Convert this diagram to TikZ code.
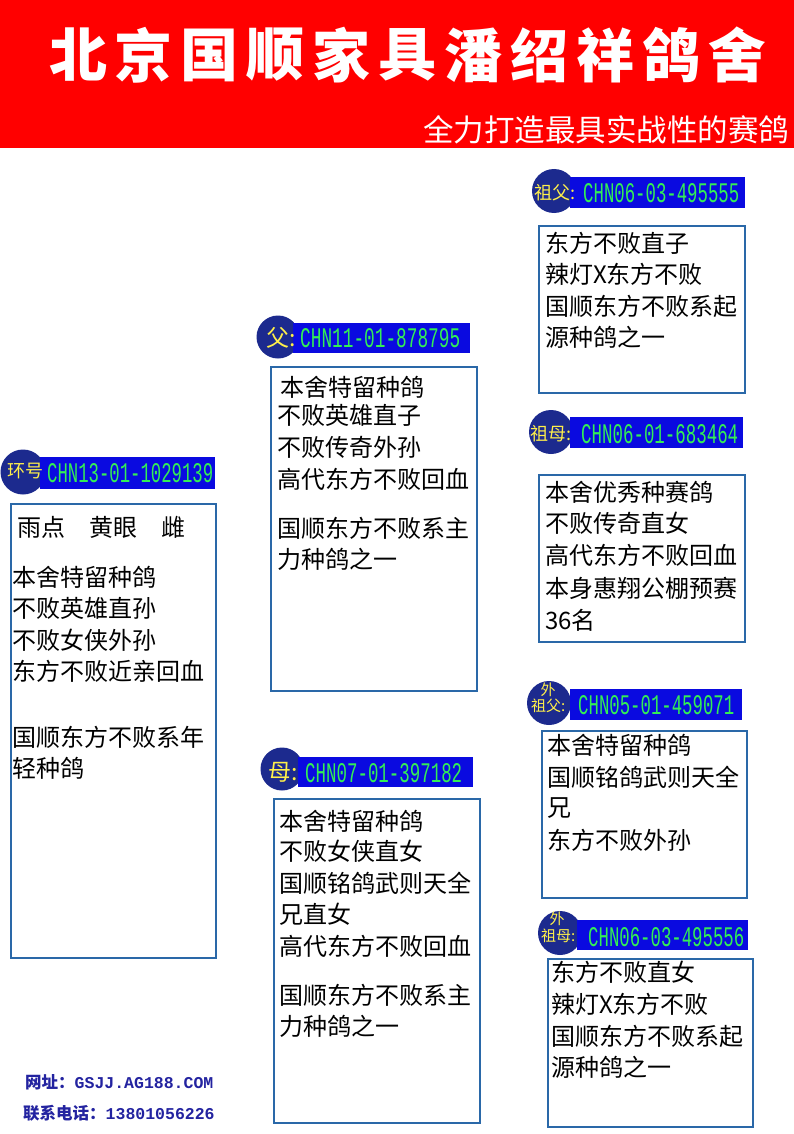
\documentclass[tikz,border=0pt]{standalone}
\usepackage{fontspec}
\setmainfont{Noto Sans CJK SC}
\newfontfamily\monofont{Liberation Mono}
\definecolor{hdrred}{HTML}{FF0000}
\definecolor{tagblue}{HTML}{0A0AE0}
\definecolor{tagnavy}{HTML}{1C2A8E}
\definecolor{tagyellow}{HTML}{FFF04A}
\definecolor{taggreen}{HTML}{33EE55}
\definecolor{boxblue}{HTML}{2A68A8}
\definecolor{footblue}{HTML}{2323A0}
\begin{document}
\begin{tikzpicture}[x=1pt,y=-1pt,
  infobox/.style={draw=boxblue,line width=2pt,fill=white,anchor=north west,inner sep=0pt},
  body/.style={anchor=west,inner sep=0pt,font=\fontsize{24}{28}\selectfont,text=black},
  tagcircle/.style={circle,fill=tagnavy,inner sep=0pt},
  tagrect/.style={fill=tagblue,inner sep=0pt,anchor=north west},
  chn/.style={anchor=west,inner sep=0pt,text=taggreen},
  lab/.style={inner sep=0pt,text=tagyellow},
  titlechar/.style={inner sep=0pt,text=white,font=\fontsize{58}{58}\selectfont\bfseries},
  foot/.style={anchor=west,inner sep=0pt,text=footblue,font=\fontsize{16.5}{18}\selectfont\bfseries}]
\fill[white] (0,0) rectangle (794,1134);
\useasboundingbox (0,0) rectangle (794,1134);

% header
\node[fill=hdrred,anchor=north west,minimum width=794pt,minimum height=148pt,inner sep=0pt] (header) at (0,0) {};
\foreach \c [count=\i from 0] in {北,京,国,顺,家,具,潘,绍,祥,鸽,舍}
  \node[titlechar] (t\i) at ({78+65.9*\i},55) {\c};
\node[anchor=west,inner sep=0pt,text=white,font=\fontsize{30.5}{32}\selectfont] (subtitle) at (423,130) {全力打造最具实战性的赛鸽};

% boxes
\node[infobox,minimum width=205pt,minimum height=454pt] (b1) at (10,503) {};
\node[infobox,minimum width=206pt,minimum height=324pt] (b2) at (270,366) {};
\node[infobox,minimum width=206pt,minimum height=324pt] (b3) at (273,798) {};
\node[infobox,minimum width=206pt,minimum height=167pt] (b4) at (538,225) {};
\node[infobox,minimum width=206pt,minimum height=167pt] (b5) at (538,474) {};
\node[infobox,minimum width=205pt,minimum height=167pt] (b6) at (541,730) {};
\node[infobox,minimum width=205pt,minimum height=168pt] (b7) at (547,958) {};

% badge: ring number
\node[tagcircle,minimum size=45pt] (c1) at (23,472) {};
\node[tagrect,minimum width=175pt,minimum height=32pt] (r1) at (40,457) {};
\node[lab,anchor=west,font=\fontsize{18}{18}\selectfont] (l1) at (7,471) {环号};
\node[chn] (n1) at (47,473) {\resizebox{166pt}{19pt}{\monofont CHN13-01-1029139}};

% badge: father
\node[tagcircle,minimum size=43pt] (c2) at (278,337) {};
\node[tagrect,minimum width=177pt,minimum height=30pt] (r2) at (293,323) {};
\node[lab,anchor=west,font=\fontsize{23}{23}\selectfont] (l2) at (266,338) {父:};
\node[chn] (n2) at (300,338) {\resizebox{160pt}{19pt}{\monofont CHN11-01-878795}};

% badge: mother
\node[tagcircle,minimum size=43pt] (c3) at (282,769) {};
\node[tagrect,minimum width=175pt,minimum height=30pt] (r3) at (298,757) {};
\node[lab,anchor=west,font=\fontsize{23}{23}\selectfont] (l3) at (268,772) {母:};
\node[chn] (n3) at (305,773) {\resizebox{157pt}{19pt}{\monofont CHN07-01-397182}};

% badge: grandfather
\node[tagcircle,minimum size=44pt] (c4) at (554,191) {};
\node[tagrect,minimum width=175pt,minimum height=31pt] (r4) at (570,177) {};
\node[lab,anchor=west,font=\fontsize{18}{18}\selectfont] (l4) at (534,193) {祖父:};
\node[chn] (n4) at (583,193) {\resizebox{156pt}{19pt}{\monofont CHN06-03-495555}};

% badge: grandmother
\node[tagcircle,minimum size=44pt] (c5) at (551,432) {};
\node[tagrect,minimum width=173pt,minimum height=31pt] (r5) at (570,417) {};
\node[lab,anchor=west,font=\fontsize{18}{18}\selectfont] (l5) at (530,434) {祖母:};
\node[chn] (n5) at (581,434) {\resizebox{157pt}{19pt}{\monofont CHN06-01-683464}};

% badge: maternal grandfather
\node[tagcircle,minimum size=44pt] (c6) at (549,703) {};
\node[tagrect,minimum width=172pt,minimum height=31pt] (r6) at (570,689) {};
\node[lab,font=\fontsize{15}{15}\selectfont] (l6a) at (548,690) {外};
\node[lab,anchor=west,font=\fontsize{15}{15}\selectfont] (l6b) at (531,706) {祖父:};
\node[chn] (n6) at (578,705) {\resizebox{156pt}{19pt}{\monofont CHN05-01-459071}};

% badge: maternal grandmother
\node[tagcircle,minimum size=44pt] (c7) at (560,933) {};
\node[tagrect,minimum width=171pt,minimum height=30pt] (r7) at (577,920) {};
\node[lab,font=\fontsize{15}{15}\selectfont] (l7a) at (557,919) {外};
\node[lab,anchor=west,font=\fontsize{15}{15}\selectfont] (l7b) at (541,936) {祖母:};
\node[chn] (n7) at (588,937) {\resizebox{156pt}{19pt}{\monofont CHN06-03-495556}};

% body texts
\node[body] (b1l0) at (17,527) {雨点　黄眼　雌};
\foreach \yy/\txt [count=\i] in {577/本舍特留种鸽,608/不败英雄直孙,640/不败女侠外孙,671/东方不败近亲回血,737/国顺东方不败系年,768/轻种鸽}
  \node[body] (b1l\i) at (12,\yy) {\txt};

\node[body] (b2l0) at (280,387) {本舍特留种鸽};
\foreach \yy/\txt [count=\i] in {415/不败英雄直子,447/不败传奇外孙,479/高代东方不败回血,528/国顺东方不败系主,559/力种鸽之一}
  \node[body] (b2l\i) at (277,\yy) {\txt};

\foreach \yy/\txt [count=\i] in {821/本舍特留种鸽,851/不败女侠直女,883/国顺铭鸽武则天全,914/兄直女,946/高代东方不败回血,995/国顺东方不败系主,1026/力种鸽之一}
  \node[body] (b3l\i) at (279,\yy) {\txt};

\foreach \yy/\txt [count=\i] in {243/东方不败直子,274/辣灯X东方不败,306/国顺东方不败系起,337/源种鸽之一}
  \node[body] (b4l\i) at (545,\yy) {\txt};

\foreach \yy/\txt [count=\i] in {492/本舍优秀种赛鸽,523/不败传奇直女,555/高代东方不败回血,588/本身惠翔公棚预赛,620/36名}
  \node[body] (b5l\i) at (545,\yy) {\txt};

\foreach \yy/\txt [count=\i] in {745/本舍特留种鸽,777/国顺铭鸽武则天全,808/兄,840/东方不败外孙}
  \node[body] (b6l\i) at (547,\yy) {\txt};

\foreach \yy/\txt [count=\i] in {972/东方不败直女,1004/辣灯X东方不败,1036/国顺东方不败系起,1067/源种鸽之一}
  \node[body] (b7l\i) at (551,\yy) {\txt};

% footer
\node[foot] (web) at (25,1082) {网址：{\monofont\bfseries GSJJ.AG188.COM}};
\node[foot] (tel) at (23,1113) {联系电话：{\monofont\bfseries 13801056226}};
\end{tikzpicture}
\end{document}
